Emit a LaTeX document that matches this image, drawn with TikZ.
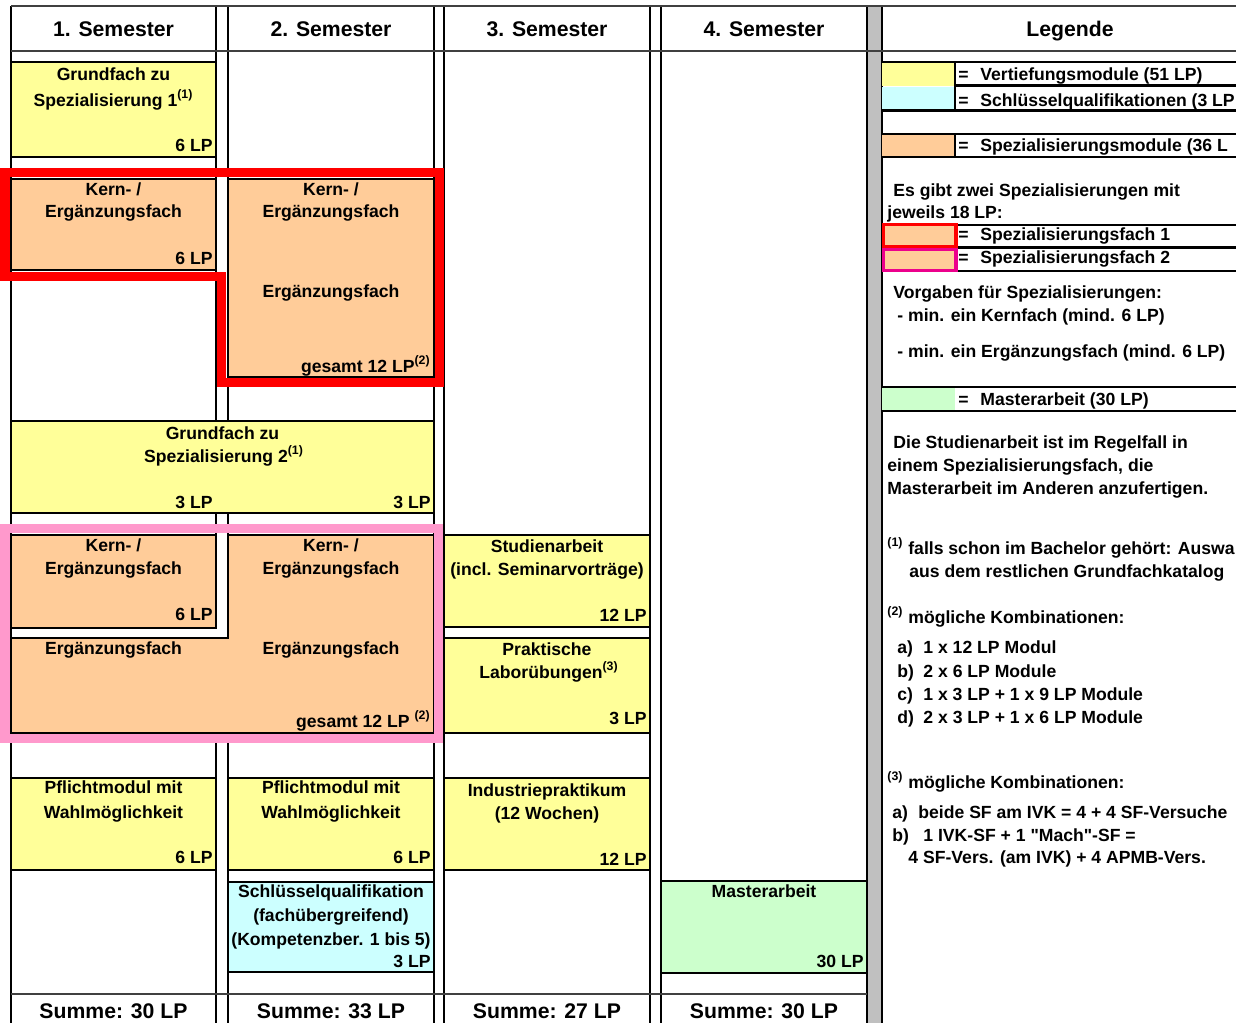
\documentclass[tikz,border=0pt]{standalone}
\usepackage{fontspec}
\setmainfont{Liberation Sans}
\usepackage{tikz}

\definecolor{vtief}{HTML}{FFFF99}
\definecolor{spez}{HTML}{FFCC99}
\definecolor{sqk}{HTML}{CCFFFF}
\definecolor{mthesis}{HTML}{CCFFCC}
\definecolor{rosa}{HTML}{FF99CC}
\definecolor{gridc}{HTML}{404040}
\definecolor{barc}{HTML}{C0C0C0}

\tikzset{
  txt/.style={font=\bfseries\fontsize{8.8}{10}\selectfont, inner sep=0pt, anchor=base},
  lp/.style={txt, anchor=base east},
  lg/.style={txt, anchor=base west},
  hdr/.style={font=\bfseries\fontsize{10.6}{12}\selectfont, inner sep=0pt, anchor=base},
  box/.style={draw=black, line width=1pt},
}

\begin{document}
\begin{tikzpicture}[x=0.5pt,y=-0.5pt]
\useasboundingbox (0,0) rectangle (1236,1023);
\clip (0,0) rectangle (1236,1023);

% columns
\fill[barc] (867,6) rectangle (882,1023);
\foreach \xl/\xr in {11/216, 228/434, 444/650, 661/867} {
  \draw[line width=1pt] (\xl,6) -- (\xl,1023);
  \draw[line width=1pt] (\xr,6) -- (\xr,1023);
}
\draw[line width=1pt] (882,6) -- (882,1023);
\draw[gridc, line width=0.8pt] (11,6) -- (1236,6);
\draw[gridc, line width=0.8pt] (11,51) -- (1236,51);
\draw[gridc, line width=0.8pt] (11,994) -- (867,994);

\node[hdr] (s1) at (113.5,36) {1. Semester};
\node[hdr] (s2) at (331,36) {2. Semester};
\node[hdr] (s3) at (547,36) {3. Semester};
\node[hdr] (s4) at (764,36) {4. Semester};
\node[hdr] (leg) at (1070,36) {Legende};

% 1. Semester
\draw[box, fill=vtief] (11,62) rectangle (216,157);
\node[txt] (gfa) at (113.5,80) {Grundfach zu};
\node[txt] (gfb) at (113.5,106) {Spezialisierung 1\textsuperscript{(1)}};
\node[lp] (gfl) at (213,151.5) {6 LP};

% Spezialisierungsfach 1
\draw[box, fill=spez] (11,179) rectangle (216,270);
\node[txt] (ka) at (113.5,195) {Kern- /};
\node[txt] (kb) at (113.5,217) {Ergänzungsfach};
\node[lp] (kl) at (213,264) {6 LP};
\draw[box, fill=spez] (228,179) rectangle (434,377);
\node[txt] (kc) at (331,195) {Kern- /};
\node[txt] (kd) at (331,217) {Ergänzungsfach};
\node[txt] (ke) at (331,297) {Ergänzungsfach};
\node[lp] (kg) at (431,372) {gesamt 12 LP\textsuperscript{(2)}};
\draw[red, line width=4.5pt] (5,172.5) -- (439,172.5) -- (439,382) -- (221.5,382)
  -- (221.5,276) -- (5,276) -- cycle;

% Grundfach 2
\draw[box, fill=vtief] (11,421) rectangle (434,513);
\node[txt] (gfc) at (222.5,439) {Grundfach zu};
\node[txt] (gfd) at (224,462) {Spezialisierung 2\textsuperscript{(1)}};
\node[lp] (gfl2) at (213,508) {3 LP};
\node[lp] (gfl3) at (431,508) {3 LP};

% Spezialisierungsfach 2
\fill[white] (12,629) rectangle (227,637);
\draw[box, fill=spez] (11,638) -- (228,638) -- (228,535) -- (434,535) -- (434,733)
  -- (11,733) -- cycle;
\draw[box, fill=spez] (11,535) rectangle (216,628);
\node[txt] (pa) at (113.5,551) {Kern- /};
\node[txt] (pb) at (113.5,574) {Ergänzungsfach};
\node[lp] (pl) at (213,620) {6 LP};
\node[txt] (pc) at (113.5,654) {Ergänzungsfach};
\node[txt] (pd) at (331,551) {Kern- /};
\node[txt] (pe) at (331,574) {Ergänzungsfach};
\node[txt] (pf) at (331,654) {Ergänzungsfach};
\node[lp] (pg) at (431,727) {gesamt 12 LP \textsuperscript{(2)}};
\draw[rosa, line width=4.5pt] (5,528) rectangle (438.5,738.5);

% Pflichtmodule
\draw[box, fill=vtief] (11,778) rectangle (216,870);
\node[txt] (fa) at (113.5,793) {Pflichtmodul mit};
\node[txt] (fb) at (113.5,818) {Wahlmöglichkeit};
\node[lp] (fl) at (213,863) {6 LP};
\draw[box, fill=vtief] (228,778) rectangle (434,870);
\node[txt] (fc) at (331,793) {Pflichtmodul mit};
\node[txt] (fd) at (331,818) {Wahlmöglichkeit};
\node[lp] (fl2) at (431,863) {6 LP};

\draw[box, fill=sqk] (228,882) rectangle (434,972);
\node[txt] (sa) at (331,897) {Schlüsselqualifikation};
\node[txt] (sb) at (331,921) {(fachübergreifend)};
\node[txt] (sc) at (331,945) {(Kompetenzber. 1 bis 5)};
\node[lp] (sl) at (431,967) {3 LP};

% 3. Semester
\draw[box, fill=vtief] (444,535) rectangle (650,627);
\node[txt] (ta) at (547,552) {Studienarbeit};
\node[txt] (tb) at (547,575) {(incl. Seminarvorträge)};
\node[lp] (tl) at (647,621) {12 LP};
\draw[box, fill=vtief] (444,638) rectangle (650,733);
\node[txt] (ua) at (547,655) {Praktische};
\node[txt] (ub) at (549,678) {Laborübungen\textsuperscript{(3)}};
\node[lp] (ul) at (647,724) {3 LP};
\draw[box, fill=vtief] (444,778) rectangle (650,870);
\node[txt] (ia) at (547,796) {Industriepraktikum};
\node[txt] (ib) at (547,819) {(12 Wochen)};
\node[lp] (il) at (647,865) {12 LP};

% 4. Semester
\draw[box, fill=mthesis] (661,881) rectangle (867,973);
\node[txt] (ma) at (764,897) {Masterarbeit};
\node[lp] (ml) at (864,967) {30 LP};

\node[hdr] (z1) at (113.5,1018) {Summe: 30 LP};
\node[hdr] (z2) at (331,1018) {Summe: 33 LP};
\node[hdr] (z3) at (547,1018) {Summe: 27 LP};
\node[hdr] (z4) at (764,1018) {Summe: 30 LP};

% Legende
\fill[vtief] (882,62) rectangle (955,85.5);
\fill[sqk] (882,86.5) rectangle (955,110.5);
\fill[spez] (882,134) rectangle (955,157);
\fill[mthesis] (882,387) rectangle (955,411);
\draw[line width=1.2pt] (882,62) -- (1236,62);
\draw[line width=1.2pt] (955,85.5) -- (1236,85.5);
\draw[line width=1.2pt] (882,110.5) -- (1236,110.5);
\draw[line width=1.2pt] (882,134) -- (1236,134);
\draw[line width=1.2pt] (882,157) -- (1236,157);
\draw[line width=1.2pt] (955,62) -- (955,110.5);
\draw[line width=1.2pt] (955,134) -- (955,157);
\draw[line width=1.2pt] (957,225) -- (1236,225);
\draw[line width=1.2pt] (957,247.5) -- (1236,247.5);
\draw[line width=1.2pt] (957,271) -- (1236,271);
\draw[line width=1.2pt] (882,387) -- (1236,387);
\draw[line width=1.2pt] (882,411) -- (1236,411);
\draw[red, line width=1.8pt, fill=spez] (883.5,224.5) rectangle (956,246.5);
\draw[magenta, line width=1.8pt, fill=spez] (883.5,249.5) rectangle (956,270.5);

\node[lg] (e1) at (958,80) {=};
\node[lg] (l1) at (980,80) {Vertiefungsmodule (51 LP)};
\node[lg] (e2) at (958,106) {=};
\node[lg] (l2) at (980,106) {Schlüsselqualifikationen (3 LP};
\node[lg] (e3) at (958,151.5) {=};
\node[lg] (l3) at (980,151.5) {Spezialisierungsmodule (36 L};
\node[lg] (n1) at (893,196.5) {Es gibt zwei Spezialisierungen mit};
\node[lg] (n2) at (887,218) {jeweils 18 LP:};
\node[lg] (e4) at (958,240.5) {=};
\node[lg] (l4) at (980,240.5) {Spezialisierungsfach 1};
\node[lg] (e5) at (958,263) {=};
\node[lg] (l5) at (980,263) {Spezialisierungsfach 2};
\node[lg] (v1) at (893,298) {Vorgaben für Spezialisierungen:};
\node[lg] (v2) at (897,321.5) {- min. ein Kernfach (mind. 6 LP)};
\node[lg] (v3) at (897,357) {- min. ein Ergänzungsfach (mind. 6 LP)};
\node[lg] (e6) at (958,405) {=};
\node[lg] (l6) at (980,405) {Masterarbeit (30 LP)};

\node[lg] (d1) at (893,448) {Die Studienarbeit ist im Regelfall in};
\node[lg] (d2) at (887,471) {einem Spezialisierungsfach, die};
\node[lg] (d3) at (887,494) {Masterarbeit im Anderen anzufertigen.};

\node[lg] (f1) at (887,554) {\textsuperscript{(1)} falls schon im Bachelor gehört: Auswa};
\node[lg] (f1b) at (909,577) {aus dem restlichen Grundfachkatalog};
\node[lg] (f2) at (887,623) {\textsuperscript{(2)} mögliche Kombinationen:};
\node[lg] (ka2) at (897,653) {\makebox[13pt][l]{a)}1 x 12 LP Modul};
\node[lg] (kb2) at (897,677) {\makebox[13pt][l]{b)}2 x 6 LP Module};
\node[lg] (kc2) at (897,700) {\makebox[13pt][l]{c)}1 x 3 LP + 1 x 9 LP Module};
\node[lg] (kd2) at (897,723) {\makebox[13pt][l]{d)}2 x 3 LP + 1 x 6 LP Module};
\node[lg] (f3) at (887,788) {\textsuperscript{(3)} mögliche Kombinationen:};
\node[lg] (ka3) at (892,818) {\makebox[13pt][l]{a)}beide SF am IVK = 4 + 4 SF-Versuche};
\node[lg] (kb3) at (892,841) {\makebox[15.5pt][l]{b)}1 IVK-SF + 1 \textquotedbl Mach\textquotedbl-SF =};
\node[lg] (kc3) at (908,863) {4 SF-Vers. (am IVK) + 4 APMB-Vers.};
\end{tikzpicture}
\end{document}
